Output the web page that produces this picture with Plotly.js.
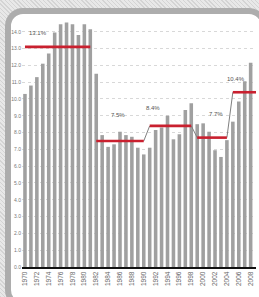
<!DOCTYPE html>
<html>
<head>
<meta charset="utf-8">
<script src="https://cdn.plot.ly/plotly-3.0.1.min.js"></script>
<style>
html,body{margin:0;padding:0;width:259px;height:297px;overflow:hidden;}
body{background:#dedede;background-image:repeating-linear-gradient(45deg,#d4d4d4 0 1px,#e8e8e8 1px 3px);position:relative;}
#frame{position:absolute;left:5px;top:8px;width:262px;height:300px;box-sizing:border-box;border:6px solid #adadad;border-radius:18px;background:#fff;}
#chart{position:absolute;left:0;top:0;width:259px;height:297px;}
</style>
</head>
<body>
<div id="frame"></div>
<div id="chart"></div>
<script>
const years = [1970,1971,1972,1973,1974,1975,1976,1977,1978,1979,1980,1981,1982,1983,1984,1985,1986,1987,1988,1989,1990,1991,1992,1993,1994,1995,1996,1997,1998,1999,2000,2001,2002,2003,2004,2005,2006,2007,2008];
const values = [10.3,10.8,11.3,12.1,12.7,13.95,14.45,14.55,14.45,13.8,14.45,14.15,11.5,7.85,7.15,7.3,8.05,7.85,7.75,7.1,6.7,7.1,8.15,8.3,9.0,7.6,7.9,9.35,9.75,8.5,8.55,8.05,6.95,6.55,7.55,8.65,9.85,11.05,12.15];
const periodStart = [1970,1982,1991,1999,2005];
const periodEnd = [1981,1990,1998,2004,2009];
const periodAvg = [13.1,7.5,8.4,7.7,10.4];
const periodLabels = ["13.1%","7.5%","8.4%","7.7%","10.4%"];
const tickYears = [1970,1972,1974,1976,1978,1980,1982,1984,1986,1988,1990,1992,1994,1996,1998,2000,2002,2004,2006,2008];

// label placement (layout only)
const labelDx = [2.2,3.6,0.5,3.1,0.6];
const labelDy = [0.8,1.55,1.05,1.4,0.8];

const traces = [{
  type:'bar', x:years, y:values,
  marker:{color:'#a0a0a0', line:{width:0}},
  hoverinfo:'skip'
}];
// thin connectors between consecutive periods (the first one is not drawn in the reference)
for(let i=2;i<periodAvg.length;i++){
  traces.push({type:'scatter',mode:'lines',
    x:[periodEnd[i-1],periodStart[i]], y:[periodAvg[i-1],periodAvg[i]],
    line:{color:'#808080',width:1}, hoverinfo:'skip'});
}
for(let i=0;i<periodAvg.length;i++){
  traces.push({type:'scatter',mode:'lines',
    x:[periodStart[i],periodEnd[i]], y:[periodAvg[i],periodAvg[i]],
    line:{color:'#c9202f',width:2.6}, hoverinfo:'skip'});
}
const annotations = periodLabels.map((t,i)=>({
  x:periodStart[i]+labelDx[i], y:periodAvg[i]+labelDy[i], xref:'x', yref:'y',
  text:t, showarrow:false, font:{family:'Liberation Sans, Arial', size:6, color:'#555'}
}));
const layout = {
  width:259, height:297,
  margin:{l:22,r:2.5,t:20,b:30,pad:0},
  paper_bgcolor:'rgba(0,0,0,0)', plot_bgcolor:'rgba(0,0,0,0)',
  showlegend:false, bargap:0.4,
  xaxis:{range:[1969.5,2008.9], tickvals:tickYears, ticktext:tickYears.map(String),
    tickangle:-90, tickfont:{family:'Liberation Sans, Arial', size:6.5, color:'#666'},
    showgrid:false, zeroline:false, showline:true, linecolor:'#111', linewidth:2, ticks:'', fixedrange:true},
  yaxis:{range:[0,14.7], dtick:1, tickformat:'.1f',
    tickfont:{family:'Liberation Sans, Arial', size:5, color:'#777'},
    showgrid:true, gridcolor:'#d8d8d8', griddash:'dot', gridwidth:1,
    zeroline:false, showline:false, ticks:'', fixedrange:true},
  annotations:annotations
};
Plotly.newPlot('chart', traces, layout, {displayModeBar:false, staticPlot:true});
</script>
</body>
</html>
